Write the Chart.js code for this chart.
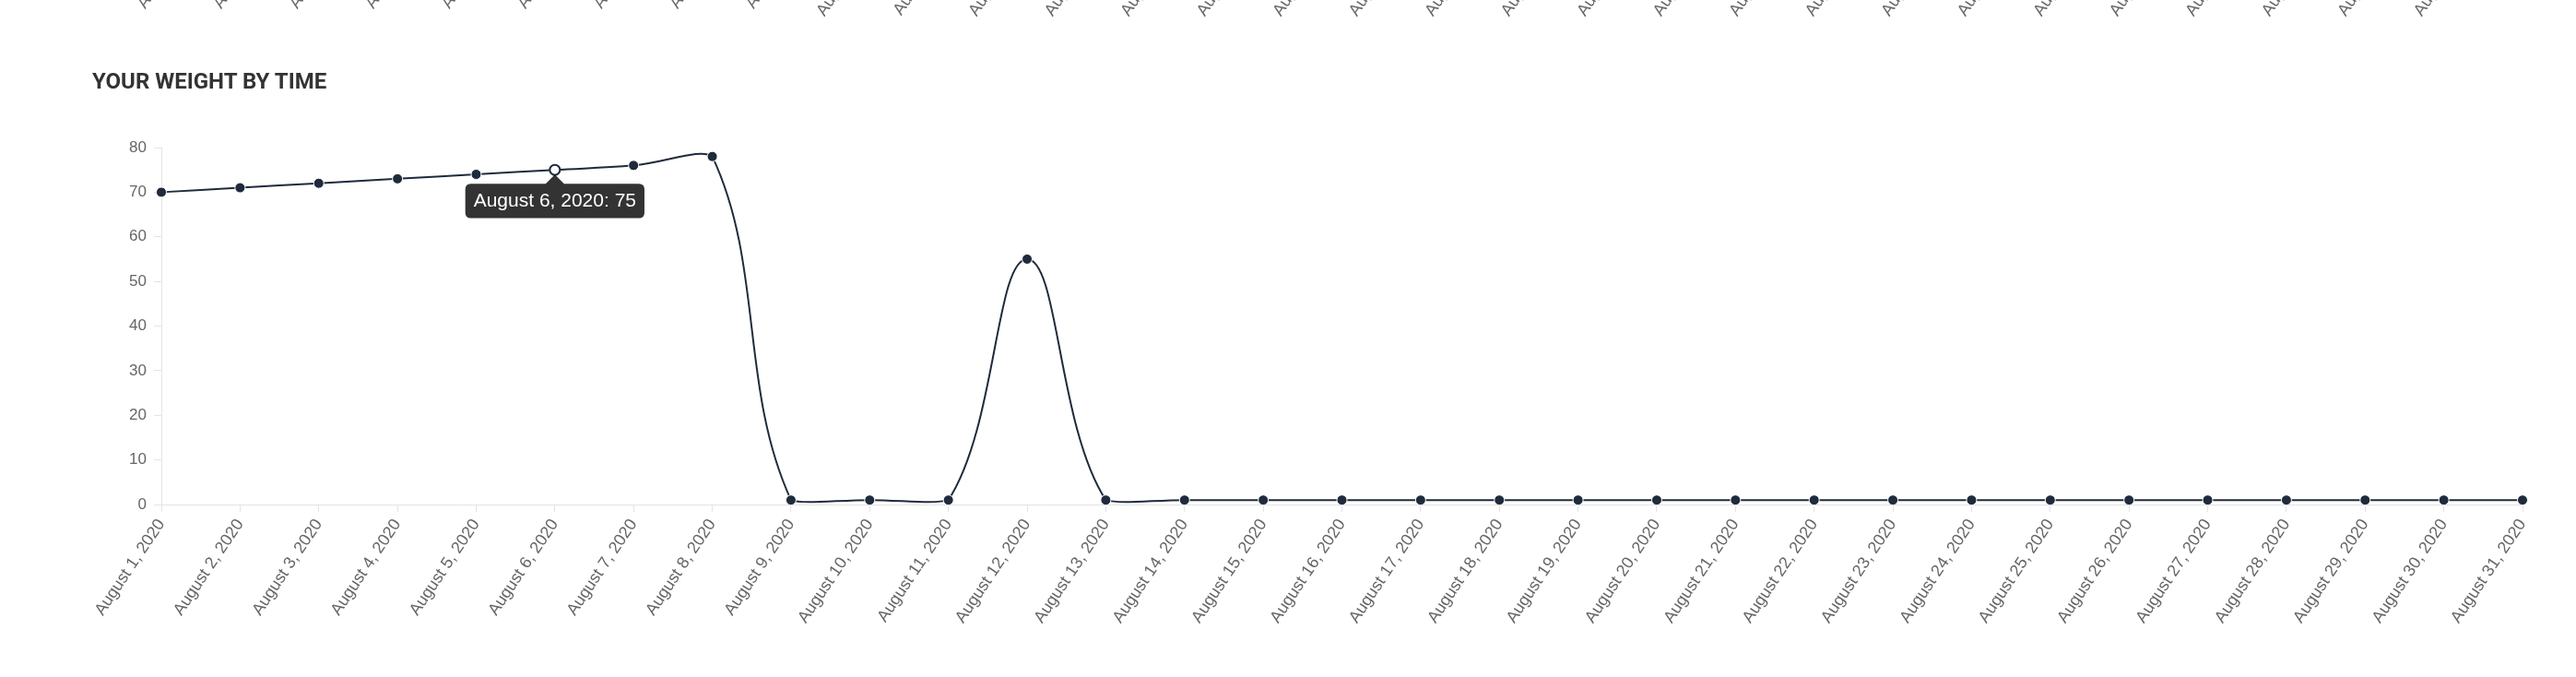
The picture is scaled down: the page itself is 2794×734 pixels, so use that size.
<!DOCTYPE html>
<html>
<head>
<meta charset="utf-8">
<title>Your weight by time</title>
<script src="https://cdn.jsdelivr.net/npm/chart.js@4/dist/chart.umd.min.js"></script>
<style>
  html, body { margin: 0; padding: 0; background: #fff; }
  body { width: 2794px; height: 734px; overflow: hidden; position: relative; }
  #prev-wrap { position: absolute; left: 0; top: -300px; width: 2794px; height: 340px; }
  #main-wrap { position: absolute; left: 0; top: 0; width: 2794px; height: 734px; }
  h2.card-title {
    position: absolute; left: 100px; top: 76px; margin: 0;
    font-family: Roboto, "Open Sans", sans-serif; font-weight: 700;
    font-size: 24px; line-height: 1; color: #333; letter-spacing: 0;
  }
</style>
</head>
<body>
<!-- bottom of the chart above this one, scrolled mostly out of view -->
<div id="prev-wrap"><canvas id="prevChart"></canvas></div>
<div id="main-wrap"><canvas id="weightChart"></canvas></div>
<h2 class="card-title">YOUR WEIGHT BY TIME</h2>

<script>
// data
const days = [
  "August 1, 2020", "August 2, 2020", "August 3, 2020", "August 4, 2020",
  "August 5, 2020", "August 6, 2020", "August 7, 2020", "August 8, 2020",
  "August 9, 2020", "August 10, 2020", "August 11, 2020", "August 12, 2020",
  "August 13, 2020", "August 14, 2020", "August 15, 2020", "August 16, 2020",
  "August 17, 2020", "August 18, 2020", "August 19, 2020", "August 20, 2020",
  "August 21, 2020", "August 22, 2020", "August 23, 2020", "August 24, 2020",
  "August 25, 2020", "August 26, 2020", "August 27, 2020", "August 28, 2020",
  "August 29, 2020", "August 30, 2020", "August 31, 2020"
];
const weights = [
  70, 71, 72, 73, 74, 75, 76, 78,
  1, 1, 1, 55, 1, 1, 1, 1,
  1, 1, 1, 1, 1, 1, 1, 1,
  1, 1, 1, 1, 1, 1, 1
];
const yTicks = [0, 10, 20, 30, 40, 50, 60, 70, 80];
const hoveredDay = 5; // tooltip is showing on August 6

const NAVY = "#1f2b3c";
const AXIS = "#e4e4e4";
const LABEL = "#666";
const FONT = "'Liberation Sans', Helvetica, Arial, sans-serif";

function xAxis(height) {
  return {
    afterFit: (s) => { s.height = height; },
    grid: { drawOnChartArea: false, drawTicks: true, tickLength: 8, color: AXIS },
    border: { color: AXIS },
    ticks: {
      color: LABEL, font: { family: FONT, size: 18 },
      minRotation: 56, maxRotation: 56, autoSkip: false, padding: 4
    }
  };
}

function buildWeightChart(canvas) {
  const chart = new Chart(canvas.getContext("2d"), {
    type: "line",
    data: {
      labels: days,
      datasets: [{
        label: "Weight",
        data: weights,
        borderColor: NAVY,
        borderWidth: 2,
        tension: 0.4,
        fill: false,
        pointRadius: 5.5,
        pointBackgroundColor: NAVY,
        pointBorderColor: "#fff",
        pointBorderWidth: 1,
        pointHoverRadius: 5.5,
        pointHoverBackgroundColor: "#fff",
        pointHoverBorderColor: NAVY,
        pointHoverBorderWidth: 2
      }]
    },
    options: {
      responsive: true,
      maintainAspectRatio: false,
      animation: false,
      layout: { padding: { top: 160, right: 58, bottom: 0, left: 0 } },
      plugins: {
        legend: { display: false },
        title: { display: false },
        tooltip: {
          animation: false,
          displayColors: false,
          backgroundColor: "rgba(0,0,0,0.8)",
          bodyColor: "#fff",
          bodyFont: { family: FONT, size: 21 },
          padding: { x: 9, y: 6 },
          cornerRadius: 6,
          caretSize: 10,
          caretPadding: 5,
          xAlign: "center",
          yAlign: "top",
          callbacks: {
            title: () => "",
            label: (ctx) => `${ctx.label}: ${ctx.parsed.y}`
          }
        }
      },
      scales: {
        x: xAxis(187),
        y: {
          min: yTicks[0],
          max: yTicks[yTicks.length - 1],
          afterFit: (s) => { s.width = 175; },
          afterBuildTicks: (s) => { s.ticks = yTicks.map(v => ({ value: v })); },
          grid: { drawOnChartArea: false, drawTicks: true, tickLength: 8, color: AXIS },
          border: { color: AXIS },
          ticks: { color: LABEL, font: { family: FONT, size: 17 }, padding: 8 }
        }
      }
    }
  });

  const active = [{ datasetIndex: 0, index: hoveredDay }];
  const pt = chart.getDatasetMeta(0).data[hoveredDay];
  chart.setActiveElements(active);
  chart.tooltip.setActiveElements(active, { x: pt.x, y: pt.y });
  chart.update("none");
  return chart;
}

// only the tails of its rotated x labels are still on screen
function buildPrevChart(canvas) {
  return new Chart(canvas.getContext("2d"), {
    type: "line",
    data: { labels: days, datasets: [] },
    options: {
      responsive: true,
      maintainAspectRatio: false,
      animation: false,
      events: [],
      layout: { padding: { top: 0, right: 98, bottom: 0, left: 0 } },
      plugins: { legend: { display: false }, tooltip: { enabled: false } },
      scales: {
        x: xAxis(151),
        y: {
          afterFit: (s) => { s.width = 221; },
          grid: { drawOnChartArea: false, color: AXIS },
          border: { color: AXIS },
          ticks: { color: LABEL, font: { family: FONT, size: 16 } }
        }
      }
    }
  });
}

document.addEventListener("DOMContentLoaded", () => {
  buildPrevChart(document.getElementById("prevChart"));
  buildWeightChart(document.getElementById("weightChart"));
});
</script>
</body>
</html>
